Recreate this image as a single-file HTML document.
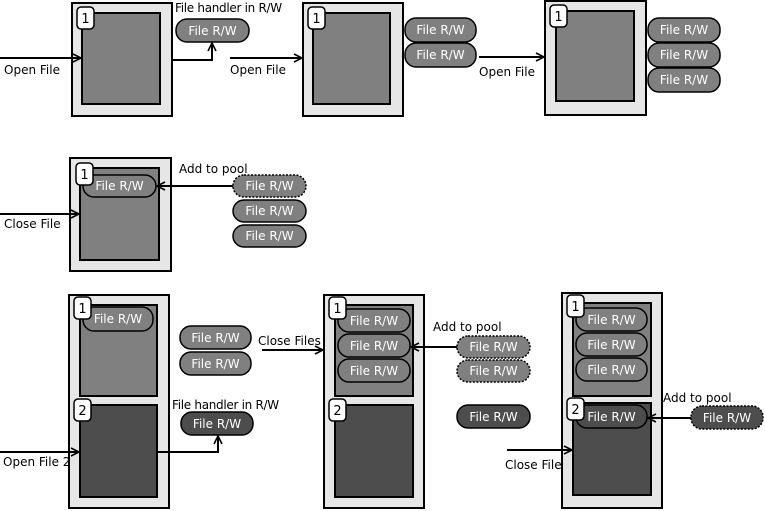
<!DOCTYPE html>
<html><head><meta charset="utf-8"><style>
html,body{margin:0;padding:0;background:#fff}
svg{display:block}
text{font-family:"DejaVu Sans","Liberation Sans",sans-serif;font-size:12px}
.o{fill:#e6e6e6;stroke:#000;stroke-width:2}
.i{fill:#808080;stroke:#000;stroke-width:2}
.d{fill:#4d4d4d;stroke:#000;stroke-width:2}
.p{fill:#808080;stroke:#000;stroke-width:1.5}
.pd{fill:#4d4d4d;stroke:#000;stroke-width:1.5}
.ds{stroke-dasharray:2,1.5}
.b{fill:#fff;stroke:#000;stroke-width:1.5}
.w{fill:#fff;text-anchor:middle}
.n{font-size:13px;text-anchor:middle}
.l{fill:none;stroke:#000;stroke-width:2}
.fh{letter-spacing:-0.3px}
</style></head><body>
<svg width="765" height="511" viewBox="0 0 765 511" xmlns="http://www.w3.org/2000/svg">
<defs><marker id="a" viewBox="0 0 10 10" refX="9" refY="5" markerWidth="10" markerHeight="10" markerUnits="userSpaceOnUse" orient="auto"><path d="M1,1 L9,5 L1,9" fill="none" stroke="#000" stroke-width="1.6"/></marker></defs>

<!-- Box A -->
<rect class="o" x="72" y="3" width="100" height="113"/>
<rect class="i" x="82" y="13" width="78" height="91"/>
<rect class="b" x="77" y="7" width="17" height="22" rx="4"/><text class="n" x="85.5" y="23">1</text>
<path class="l" d="M0,58 H81" marker-end="url(#a)"/>
<text x="4" y="74">Open File</text>
<path class="l" d="M172,60 H212 V43" marker-end="url(#a)"/>
<text class="fh" x="175" y="12">File handler in R/W</text>
<rect class="p" x="176" y="19" width="73" height="23" rx="11"/><text class="w" x="212.5" y="35">File R/W</text>

<!-- Box B -->
<rect class="o" x="303" y="3" width="100" height="113"/>
<rect class="i" x="313" y="13" width="77" height="91"/>
<rect class="b" x="308" y="7" width="17" height="22" rx="4"/><text class="n" x="316.5" y="23">1</text>
<path class="l" d="M230,58 H302" marker-end="url(#a)"/>
<text x="230" y="74">Open File</text>
<rect class="p" x="405" y="18" width="71" height="24" rx="11"/><text class="w" x="440.5" y="34">File R/W</text>
<rect class="p" x="405" y="43" width="71" height="24" rx="11"/><text class="w" x="440.5" y="59">File R/W</text>

<!-- Box C -->
<rect class="o" x="545" y="1" width="101" height="114"/>
<rect class="i" x="556" y="11" width="78" height="90"/>
<rect class="b" x="550" y="5" width="17" height="22" rx="4"/><text class="n" x="558.5" y="21">1</text>
<path class="l" d="M479,57 H544" marker-end="url(#a)"/>
<text x="479" y="76">Open File</text>
<rect class="p" x="648" y="18" width="72" height="24" rx="11"/><text class="w" x="684" y="34">File R/W</text>
<rect class="p" x="648" y="43" width="72" height="24" rx="11"/><text class="w" x="684" y="59">File R/W</text>
<rect class="p" x="648" y="68" width="72" height="24" rx="11"/><text class="w" x="684" y="84">File R/W</text>

<!-- Box D -->
<rect class="o" x="70" y="158" width="101" height="113"/>
<rect class="i" x="80" y="168" width="79" height="92"/>
<rect class="p" x="83" y="175" width="73" height="22" rx="11"/><text class="w" x="119.5" y="190">File R/W</text>
<rect class="b" x="76" y="163" width="17" height="22" rx="4"/><text class="n" x="84.5" y="179">1</text>
<path class="l" d="M0,214 H79" marker-end="url(#a)"/>
<text x="4" y="228">Close File</text>
<text x="179" y="173">Add to pool</text>
<path class="l" d="M233,186 H157" marker-end="url(#a)"/>
<rect class="p ds" x="233" y="175" width="73" height="22" rx="11"/><text class="w" x="269.5" y="190">File R/W</text>
<rect class="p" x="233" y="200" width="73" height="22" rx="11"/><text class="w" x="269.5" y="215">File R/W</text>
<rect class="p" x="233" y="225" width="73" height="22" rx="11"/><text class="w" x="269.5" y="240">File R/W</text>

<!-- Box E -->
<rect class="o" x="69" y="295" width="100" height="213"/>
<rect class="i" x="80" y="305" width="77" height="91"/>
<rect class="d" x="80" y="405" width="77" height="92"/>
<rect class="p" x="83" y="307" width="70" height="24" rx="11"/><text class="w" x="118" y="323">File R/W</text>
<rect class="b" x="74" y="297" width="17" height="22" rx="4"/><text class="n" x="82.5" y="313">1</text>
<rect class="b" x="74" y="399" width="17" height="22" rx="4"/><text class="n" x="82.5" y="415">2</text>
<path class="l" d="M0,452 H79" marker-end="url(#a)"/>
<text x="3" y="466">Open File 2</text>
<path class="l" d="M157,452 H218 V436" marker-end="url(#a)"/>
<text class="fh" x="172" y="409">File handler in R/W</text>
<rect class="pd" x="181" y="412" width="72" height="23" rx="11"/><text class="w" x="217" y="428">File R/W</text>
<rect class="p" x="180" y="326" width="71" height="23" rx="11"/><text class="w" x="215.5" y="342">File R/W</text>
<rect class="p" x="180" y="352" width="71" height="23" rx="11"/><text class="w" x="215.5" y="368">File R/W</text>
<text x="258" y="345">Close Files</text>
<path class="l" d="M262,350 H323" marker-end="url(#a)"/>

<!-- Box F -->
<rect class="o" x="324" y="295" width="100" height="213"/>
<rect class="i" x="335" y="305" width="78" height="91"/>
<rect class="d" x="335" y="405" width="78" height="92"/>
<rect class="p" x="338" y="309" width="72" height="23" rx="11"/><text class="w" x="374" y="325">File R/W</text>
<rect class="p" x="338" y="334" width="72" height="23" rx="11"/><text class="w" x="374" y="350">File R/W</text>
<rect class="p" x="338" y="359" width="72" height="23" rx="11"/><text class="w" x="374" y="375">File R/W</text>
<rect class="b" x="329" y="297" width="17" height="22" rx="4"/><text class="n" x="337.5" y="313">1</text>
<rect class="b" x="329" y="399" width="17" height="22" rx="4"/><text class="n" x="337.5" y="415">2</text>
<text x="433" y="331">Add to pool</text>
<path class="l" d="M457,347 H411" marker-end="url(#a)"/>
<rect class="p ds" x="457" y="336" width="73" height="22" rx="11"/><text class="w" x="493.5" y="351">File R/W</text>
<rect class="p ds" x="457" y="360" width="73" height="22" rx="11"/><text class="w" x="493.5" y="375">File R/W</text>
<rect class="pd" x="457" y="405" width="73" height="23" rx="11"/><text class="w" x="493.5" y="421">File R/W</text>

<!-- Box G -->
<rect class="o" x="562" y="293" width="100" height="215"/>
<rect class="i" x="573" y="303" width="78" height="93"/>
<rect class="d" x="573" y="403" width="78" height="92"/>
<rect class="p" x="576" y="308" width="71" height="23" rx="11"/><text class="w" x="611.5" y="324">File R/W</text>
<rect class="p" x="576" y="333" width="71" height="23" rx="11"/><text class="w" x="611.5" y="349">File R/W</text>
<rect class="p" x="576" y="358" width="71" height="23" rx="11"/><text class="w" x="611.5" y="374">File R/W</text>
<rect class="pd" x="576" y="405" width="71" height="23" rx="11"/><text class="w" x="611.5" y="421">File R/W</text>
<rect class="b" x="567" y="295" width="17" height="22" rx="4"/><text class="n" x="575.5" y="311">1</text>
<rect class="b" x="567" y="398" width="17" height="22" rx="4"/><text class="n" x="575.5" y="414">2</text>
<text x="663" y="402">Add to pool</text>
<path class="l" d="M691,418 H648" marker-end="url(#a)"/>
<rect class="pd ds" x="691" y="406" width="72" height="23" rx="11"/><text class="w" x="727" y="422">File R/W</text>
<path class="l" d="M507,450 H572" marker-end="url(#a)"/>
<text x="505" y="469">Close File</text>
</svg>
</body></html>
